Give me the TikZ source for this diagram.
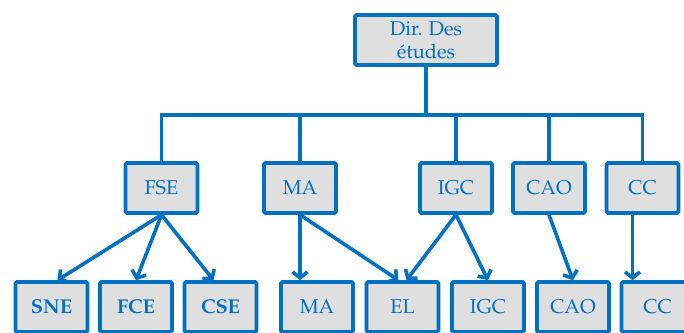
\documentclass[tikz,border=0pt]{standalone}
\usepackage[T1]{fontenc}
\usepackage{mathpazo}
\usepackage{tikz}
\usetikzlibrary{positioning}
\usetikzlibrary{arrows.meta}
\usetikzlibrary{calc}

\definecolor{orgblue}{RGB}{0,112,192}
\definecolor{orggray}{RGB}{223,223,223}

\begin{document}
\begin{tikzpicture}[x=1pt, y=-1pt,
	box/.style = {draw=orgblue, fill=orggray, line width=3.6pt, rounded corners=1.5pt,
		minimum width=72pt, minimum height=50pt, inner sep=0pt,
		text=orgblue, font=\fontsize{20}{23}\selectfont},
	link/.style = {draw=orgblue, line width=3.6pt},
	arr/.style = {link, -{Straight Barb[length=6pt,width=15pt]}}]
\useasboundingbox (0,0) rectangle (684,332);

\node[box, minimum width=142pt, align=center] (dir) at (426,40) {Dir. Des\\\'etudes};

\node[box] (fse) at (161.5,188) {FSE};
\node[box] (ma)  at (300,188) {MA};
\node[box] (igc) at (456,188) {IGC};
\node[box] (cao) at (549,188) {CAO};
\node[box] (cc)  at (642.5,188) {CC};

\node[box, font=\fontsize{20}{23}\selectfont\bfseries] (sne) at (51.5,307) {SNE};
\node[box, font=\fontsize{20}{23}\selectfont\bfseries] (fce) at (136,307) {FCE};
\node[box, font=\fontsize{20}{23}\selectfont\bfseries] (cse) at (220.5,307) {CSE};
\node[box] (ma2)  at (317,307) {MA};
\node[box] (el)   at (402.5,307) {EL};
\node[box] (igc2) at (488,307) {IGC};
\node[box] (cao2) at (573,307) {CAO};
\node[box] (cc2)  at (657.5,307) {CC};

\coordinate (bus) at (426,115);

\draw[link] (dir.south) -- (bus);
\draw[link] (fse.north) |- (bus);
\draw[link] (ma.north) |- (bus);
\draw[link] (igc.north) |- (bus);
\draw[link] (cao.north) |- (bus);
\draw[link] (cc.north) |- (bus);

\draw[arr] (fse.south) -- ($(sne.north)+(6,0)$);
\draw[arr] (fse.south) -- (fce.north);
\draw[arr] (fse.south) -- ($(cse.north)+(-7,0)$);
\draw[arr] (ma.south) -- (ma.south |- ma2.north);
\draw[arr] (ma.south) -- ($(el.north)+(-4,0)$);
\draw[arr] (igc.south) -- ($(el.north)+(4,0)$);
\draw[arr] (igc.south) -- (igc2.north);
\draw[arr] (cao.south) -- (cao2.north);
\draw[arr] ($(cc.south)+(-10,0)$) coordinate (ccs) -- (ccs |- cc2.north);
\end{tikzpicture}
\end{document}
